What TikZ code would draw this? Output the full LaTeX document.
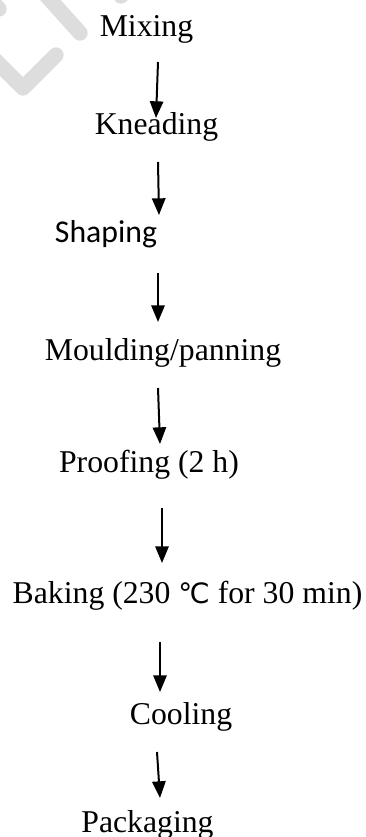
\documentclass[tikz,border=0pt]{standalone}
\usepackage{fontspec}
\setmainfont{Liberation Serif}
\newfontfamily\calib{Carlito}
\newfontfamily\dejavu{DejaVu Sans}
\usetikzlibrary{arrows.meta}
\definecolor{wm}{RGB}{221,221,221}
\tikzset{
  steptext/.style={anchor=base, inner sep=0pt, outer sep=0pt, font=\fontsize{23.8}{28}\selectfont},
  flow/.style={line width=1.5pt, -{Triangle[width=10pt,length=12.5pt]}},
  mark wm/.style={draw=wm, line width=11.5pt, line cap=round, line join=round}
}
\begin{document}
\begin{tikzpicture}[x=0.75pt,y=-0.75pt]
\useasboundingbox (0,0) rectangle (365,837);
\begin{scope}
\clip (0,0) rectangle (365,837);
\draw[mark wm] (45,-6) -- (80,33);
\draw[mark wm] (-12,53) -- (23,88) -- (56,55);
\draw[mark wm] (-30,-22) -- (-1,9);
\draw[mark wm] (121,-4) -- (150,-35);
\end{scope}
% steps
\node[steptext] (mix) at (146.5,37) {Mixing};
\node[steptext] (knead) at (156.5,135) {Kneading};
\node[steptext, font=\fontsize{23.8}{28}\calib] (shape) at (106,243) {Shaping};
\node[steptext] (mould) at (163,360) {Moulding/panning};
\node[steptext] (proof) at (149,472) {Proofing (2 h)};
\node[steptext] (bake) at (187.5,603) {Baking (230 {\dejavu\fontsize{21}{28}\selectfont ℃} for 30 min)};
\node[steptext] (cool) at (181,724) {Cooling};
\node[steptext] (pack) at (147.5,832) {Packaging};
% arrow ends
\coordinate (a1s) at (158,62);  \coordinate (a1e) at (156,118);
\coordinate (a2s) at (158,162); \coordinate (a2e) at (159,215);
\coordinate (a3s) at (158,273); \coordinate (a3e) at (158,322);
\coordinate (a4s) at (158,388); \coordinate (a4e) at (160,444);
\coordinate (a5s) at (162,508); \coordinate (a5e) at (162,563);
\coordinate (a6s) at (160,642); \coordinate (a6e) at (160,692);
\coordinate (a7s) at (157,752); \coordinate (a7e) at (160,798);
\foreach \i in {1,...,7} \draw[flow] (a\i s) -- (a\i e);
\end{tikzpicture}
\end{document}
